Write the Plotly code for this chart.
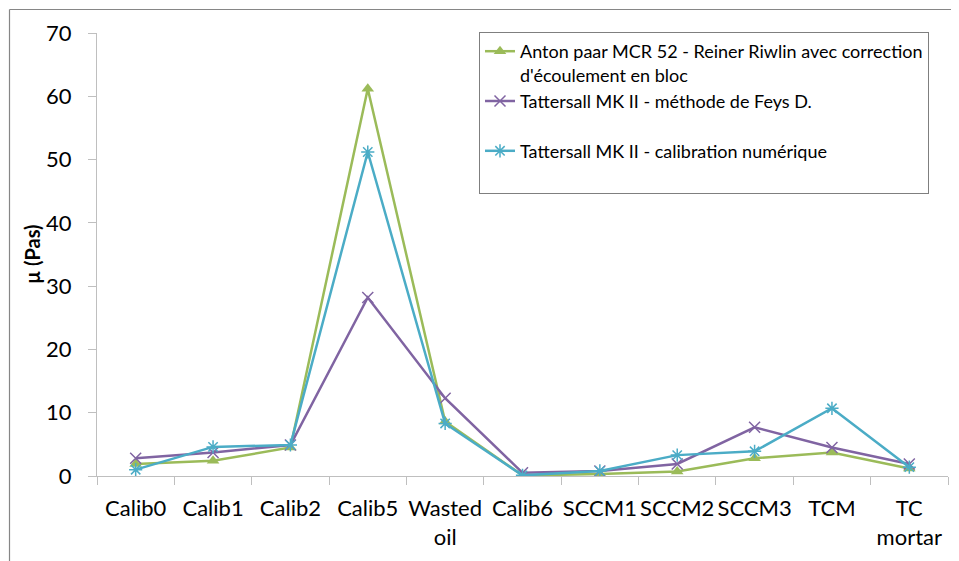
import plotly.graph_objects as go

categories = ["Calib0", "Calib1", "Calib2", "Calib5", "Wasted<br>oil", "Calib6",
              "SCCM1", "SCCM2", "SCCM3", "TCM", "TC<br>mortar"]
anton = [1.9, 2.4, 4.5, 61.2, 8.6, 0.1, 0.3, 0.7, 2.8, 3.7, 1.2]
feys = [2.8, 3.7, 4.9, 28.2, 12.3, 0.5, 0.8, 1.9, 7.7, 4.5, 1.9]
calib_num = [1.0, 4.6, 4.9, 51.2, 8.3, 0.1, 0.8, 3.3, 3.9, 10.7, 1.4]

names = ["Anton paar MCR 52 - Reiner Riwlin avec correction<br>d'écoulement en bloc",
         "Tattersall MK II - méthode de Feys D.<br><span style='font-size:28px'> </span>",
         "Tattersall MK II - calibration numérique<br><span style='font-size:5px'> </span>"]

FONT = "Lato"
OFF = 8  # default page body margin
W, H = 959 - OFF, 561 - OFF


def fx(px):
    return px - OFF


def fy(py):
    return py - OFF


L = fx(97)
T = fy(33)
R = W - fx(948)
B = H - fy(476)
pw, ph = W - L - R, H - T - B


def paper_x(px):
    return (fx(px) - L) / pw


def paper_y(py):
    return (H - B - fy(py)) / ph


fig = go.Figure()
fig.add_trace(go.Scatter(x=categories, y=anton, name=names[0], mode="lines+markers",
                         line=dict(color="#9BBB59", width=2.5),
                         marker=dict(symbol="triangle-up", size=11, color="#9BBB59")))
fig.add_trace(go.Scatter(x=categories, y=feys, name=names[1], mode="lines+markers",
                         line=dict(color="#8064A2", width=2.5),
                         marker=dict(symbol="x-thin-open", size=11,
                                     line=dict(color="#8064A2", width=1.5))))
fig.add_trace(go.Scatter(x=categories, y=calib_num, name=names[2], mode="lines+markers",
                         line=dict(color="#4BACC6", width=2.5),
                         marker=dict(symbol="asterisk-open", size=11,
                                     line=dict(color="#4BACC6", width=1.5))))

border = dict(color="#868686", width=1.2)
fig.update_layout(
    width=W, height=H,
    margin=dict(l=L, r=R, t=T, b=B, autoexpand=False),
    paper_bgcolor="white", plot_bgcolor="white",
    font=dict(family=FONT, color="#000000"),
    showlegend=True,
    legend=dict(x=paper_x(479), y=paper_y(32), xanchor="left", yanchor="top",
                bordercolor="#7f7f7f", borderwidth=1, bgcolor="white",
                font=dict(family=FONT, size=18), valign="top",
                traceorder="normal"),
    xaxis=dict(type="category", range=[-0.5, 10.5], showline=True, linecolor="#bfbfbf",
               linewidth=1, ticks="outside", tickson="boundaries", ticklen=8,
               tickcolor="#bfbfbf", showgrid=False, zeroline=False, tickangle=0,
               automargin=False, ticklabelstandoff=13,
               tickfont=dict(family=FONT, size=22)),
    yaxis=dict(range=[0, 70], dtick=10, showline=True, linecolor="#bfbfbf", linewidth=1,
               ticks="outside", ticklen=8, tickcolor="#bfbfbf", showgrid=False,
               automargin=False, zeroline=False, ticklabelstandoff=12,
               tickfont=dict(family=FONT, size=22)),
    annotations=[dict(text="<b>µ (Pas)</b>", textangle=-90, xref="paper", yref="paper",
                      x=paper_x(32), y=paper_y(254), xanchor="center", yanchor="middle",
                      showarrow=False, font=dict(family=FONT, size=20))],
    shapes=[
        dict(type="line", xref="paper", yref="paper",
             x0=paper_x(9.5), x1=paper_x(9.5), y0=paper_y(561), y1=paper_y(9.5),
             line=border),
        dict(type="line", xref="paper", yref="paper",
             x0=paper_x(9.5), x1=paper_x(959), y0=paper_y(9.5), y1=paper_y(9.5),
             line=border),
    ],
)
fig.write_html("out.html")
